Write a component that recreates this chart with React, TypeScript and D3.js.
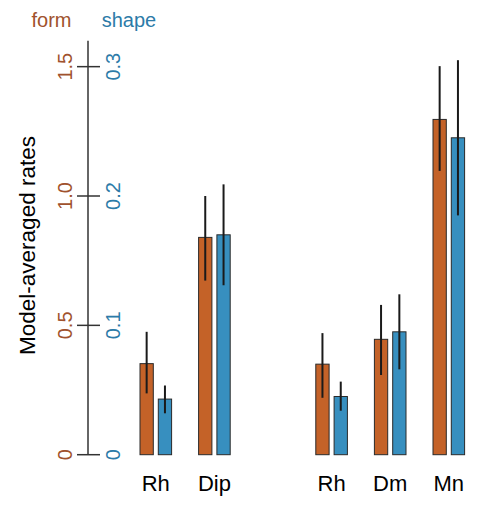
import React from "react";
import * as d3 from "d3";

const categories = ["Rh", "Dip", "Rh", "Dm", "Mn"];
const slots = [0, 1, 3, 4, 5];
const formValues = [0.352, 0.84, 0.35, 0.446, 1.296];
const formLow = [0.237, 0.673, 0.22, 0.308, 1.097];
const formHigh = [0.475, 1.0, 0.47, 0.579, 1.502];
const shapeValues = [0.043, 0.17, 0.045, 0.095, 0.245];
const shapeLow = [0.032, 0.131, 0.034, 0.066, 0.185];
const shapeHigh = [0.0535, 0.209, 0.0565, 0.124, 0.305];
const formTicks = [0, 0.5, 1.0, 1.5];
const formTickLabels = ["0", "0.5", "1.0", "1.5"];
const shapeTicks = [0, 0.1, 0.2, 0.3];
const shapeTickLabels = ["0", "0.1", "0.2", "0.3"];

const ORANGE = "#C46228";
const BLUE = "#378FBF";
const FORM_TXT = "#A0522D";
const SHAPE_TXT = "#2C7BA8";
const FONT = "'Liberation Sans', Arial, Helvetica, sans-serif";

export default function App() {
  const W = 482, H = 508;
  const y0 = 454.7;
  const yForm = d3.scaleLinear().domain([0, 1.6]).range([y0, y0 - 258.7 * 1.6]);
  const yShape = d3.scaleLinear().domain([0, 0.32]).range([y0, y0 - 258.7 * 1.6]);
  const slot = d3.scaleLinear().domain([0, 1]).range([140, 198.6]);
  const bw = 13.3;
  const gap = 5;
  const axisX = 88;

  return (
    <svg width={W} height={H} style={{ position: "absolute", left: 0, top: 0 }}>
      <rect width={W} height={H} fill="white" />
      <text x={51.5} y={27} fill={FORM_TXT} fontSize={20} fontFamily={FONT} textAnchor="middle">form</text>
      <text x={129} y={27} fill={SHAPE_TXT} fontSize={20} fontFamily={FONT} textAnchor="middle">shape</text>
      <text transform={`translate(35,245.5) rotate(-90)`} fill="#000" fontSize={22.5} fontFamily={FONT} textAnchor="middle">Model-averaged rates</text>
      <line x1={axisX} x2={axisX} y1={yForm(0)} y2={yForm(1.6)} stroke="#333" strokeWidth={1.5} />
      {formTicks.map((t, i) => (
        <g key={"ft" + i}>
          <line x1={77} x2={100} y1={yForm(t)} y2={yForm(t)} stroke="#333" strokeWidth={1.5} />
          <text transform={`translate(71.5,${yForm(t)}) rotate(-90)`} fill={FORM_TXT} fontSize={20} fontFamily={FONT} textAnchor="middle">{formTickLabels[i]}</text>
        </g>
      ))}
      {shapeTicks.map((t, i) => (
        <text key={"st" + i} transform={`translate(119.5,${yShape(t)}) rotate(-90)`} fill={SHAPE_TXT} fontSize={20} fontFamily={FONT} textAnchor="middle">{shapeTickLabels[i]}</text>
      ))}
      {categories.map((c, i) => {
        const x = slot(slots[i]);
        const xb = x + bw + gap;
        return (
          <g key={"c" + i}>
            <rect x={x} y={yForm(formValues[i])} width={bw} height={y0 - yForm(formValues[i])} fill={ORANGE} stroke="#2a2a2a" strokeWidth={1} />
            <rect x={xb} y={yShape(shapeValues[i])} width={bw} height={y0 - yShape(shapeValues[i])} fill={BLUE} stroke="#2a2a2a" strokeWidth={1} />
            <line x1={x + bw / 2} x2={x + bw / 2} y1={yForm(formLow[i])} y2={yForm(formHigh[i])} stroke="#1a1a1a" strokeWidth={2} />
            <line x1={xb + bw / 2} x2={xb + bw / 2} y1={yShape(shapeLow[i])} y2={yShape(shapeHigh[i])} stroke="#1a1a1a" strokeWidth={2} />
            <text x={x + bw + gap / 2} y={491} fontSize={22} fontFamily={FONT} textAnchor="middle" fill="#000">{c}</text>
          </g>
        );
      })}
    </svg>
  );
}
